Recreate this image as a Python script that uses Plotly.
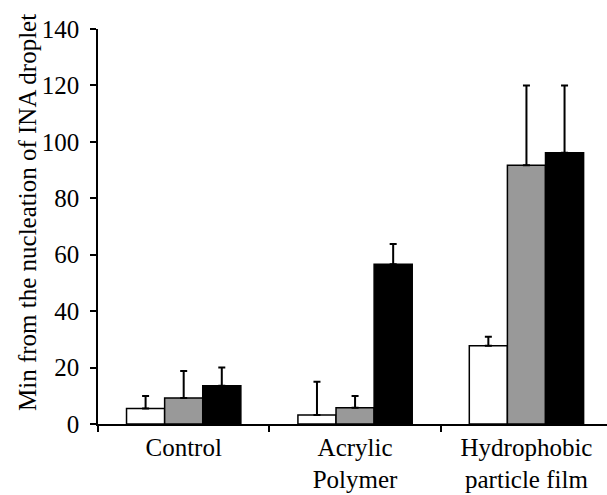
import plotly.graph_objects as go

categories = ["Control", "Acrylic<br>Polymer", "Hydrophobic<br>particle film"]
white_vals = [5.5, 3.2, 27.7]
white_err = [4.4, 11.8, 3.2]
gray_vals = [9.2, 5.8, 91.7]
gray_err = [9.6, 4.1, 28.3]
black_vals = [13.6, 56.6, 96.1]
black_err = [6.4, 7.2, 23.9]
y_ticks = [0, 20, 40, 60, 80, 100, 120, 140]

FONT = "'Liberation Serif', 'Times New Roman', serif"

fig = go.Figure()
for vals, errs, col in [(white_vals, white_err, "#ffffff"),
                        (gray_vals, gray_err, "#999999"),
                        (black_vals, black_err, "#000000")]:
    fig.add_trace(go.Bar(
        x=categories, y=vals,
        marker=dict(color=col, line=dict(color="black", width=1.5)),
        error_y=dict(type="data", symmetric=False, array=errs,
                     arrayminus=[0] * len(errs), color="black",
                     thickness=2, width=3.5),
        showlegend=False,
    ))

fig.update_layout(
    width=607, height=495,
    margin=dict(l=98, r=0, t=29, b=71, autoexpand=False),
    paper_bgcolor="white", plot_bgcolor="white",
    barmode="group", bargap=0.333, bargroupgap=0,
    font=dict(family=FONT, size=25, color="black"),
    xaxis=dict(
        type="category", range=[-0.5, 2.47], automargin=False,
        showline=True, linecolor="black", linewidth=1.5,
        ticks="outside", tickson="boundaries", ticklen=6, tickwidth=1.5,
        tickcolor="black", showgrid=False, zeroline=False,
        tickfont=dict(family=FONT, size=25),
    ),
    yaxis=dict(
        range=[0, 140], tickvals=y_ticks, automargin=False,
        showline=True, linecolor="black", linewidth=1.5,
        ticks="outside", ticklen=6, tickwidth=1.5, tickcolor="black",
        showgrid=False, zeroline=False, ticklabelstandoff=6,
        tickfont=dict(family=FONT, size=25),
    ),
    annotations=[dict(
        text="Min from the nucleation of INA droplet",
        xref="paper", yref="paper", x=(27 - 98) / 509, y=(424 - 213) / 395,
        xanchor="center", yanchor="middle", textangle=-90, showarrow=False,
        font=dict(family=FONT, size=25, color="black"),
    )],
)

fig.write_html("out.html", config={"displayModeBar": False},
               post_script="document.body.style.margin='0';"
                           "document.body.style.overflow='hidden';")
